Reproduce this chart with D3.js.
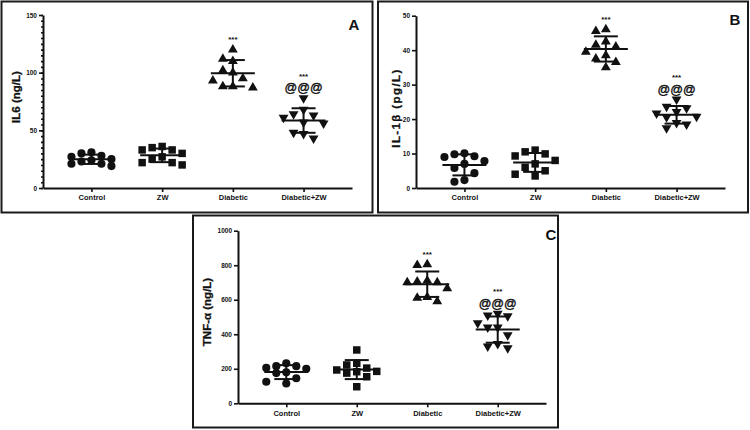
<!DOCTYPE html>
<html>
<head>
<meta charset="utf-8">
<script src="https://cdn.jsdelivr.net/npm/d3@7"></script>
<style>
body { margin: 0; background: #fff; }
svg text { font-family: "Liberation Sans", Arial, sans-serif; font-weight: bold; fill: #111; }
.axis path, .axis line { stroke: #111; }
.axis path { stroke-width: 2; }
.axis line { stroke-width: 1.6; }
</style>
</head>
<body>
<svg width="750" height="430"></svg>
<script>
// groups on the x axis
var categories = ["Control", "ZW", "Diabetic", "Diabetic+ZW"];

// IL6 (ng/L), panel A
var il6Control  = [28, 21, 31, 25, 27, 21, 24, 19, 30, 23];
var il6ZW       = [33, 20, 22, 35, 30, 25, 36, 22, 33, 27];
var il6Diabetic = [120, 110, 112, 93, 87, 95, 88, 100, 102, 88];
var il6DiabZW   = [78, 68, 63, 64, 56, 48, 43, 47, 57, 61];
var il6Ticks    = [0, 50, 100, 150];

// IL-1b (pg/L), panel B
var il1bControl  = [9.0, 7.8, 1.8, 4.3, 9.8, 7.0, 2.3, 10.1, 5.8, 9.2];
var il1bZW       = [9.3, 10.5, 8, 5, 3.5, 11, 7, 4, 6, 9.9];
var il1bDiabetic = [45.5, 46, 42.5, 38.5, 41.5, 39.5, 35, 37.5, 36.5, 41];
var il1bDiabZW   = [25.7, 23.2, 23.6, 22.1, 20.6, 17.4, 18.5, 21.7, 18.9, 20.7];
var il1bTicks    = [0, 10, 20, 30, 40, 50];

// TNF-a (ng/L), panel C
var tnfControl  = [200, 115, 215, 175, 145, 205, 180, 125, 215, 232];
var tnfZW       = [185, 222, 232, 309, 175, 96, 154, 193, 204, 183];
var tnfDiabetic = [805, 800, 705, 700, 710, 665, 615, 590, 610, 700];
var tnfDiabZW   = [505, 510, 520, 465, 440, 395, 345, 320, 330, 440];
var tnfTicks    = [0, 200, 400, 600, 800, 1000];

// significance marks per group
var starMarks = ["", "", "***", "***"];
var atMarks   = ["", "", "", "@@@"];

var svg = d3.select("svg");

var symbols = [
  d3.symbol().type(d3.symbolCircle).size(52),
  d3.symbol().type(d3.symbolSquare).size(56),
  d3.symbol().type(d3.symbolTriangle).size(42),
  d3.symbol().type(d3.symbolTriangle).size(42)
];

var panels = [
  { letter: "A", groups: [il6Control, il6ZW, il6Diabetic, il6DiabZW], ticks: il6Ticks,
    title: "IL6 (ng/L)", frame: [1.5, 1.5, 371, 211], l: 43, r: 352, t: 15, b: 188,
    titleX: 16, titleY: 97, spacing: 0, letterX: 354, letterY: 30, minor: 5 },
  { letter: "B", groups: [il1bControl, il1bZW, il1bDiabetic, il1bDiabZW], ticks: il1bTicks,
    title: "IL-1\u03b2  (pg/L)", frame: [378, 1.5, 370, 211], l: 416, r: 725, t: 15.7, b: 188,
    titleX: 396, titleY: 108, spacing: 1.4, letterX: 735, letterY: 25 },
  { letter: "C", groups: [tnfControl, tnfZW, tnfDiabetic, tnfDiabZW], ticks: tnfTicks,
    title: "TNF-\u03b1 (ng/L)", frame: [193, 215.5, 365, 212], l: 238, r: 546, t: 230.7, b: 403.3,
    titleX: 207, titleY: 312, spacing: 0, letterX: 551, letterY: 240 }
];

// spread points of a group sideways (at most two slots each way)
function swarm(vals, y, cx) {
  var step = 10, placed = [];
  var offs = [0, -1, 1, -2, 2];
  vals.slice().sort(d3.descending).forEach(function(v) {
    var py = y(v), best = null, bestGap = -1;
    for (var i = 0; i < offs.length; i++) {
      var px = cx + offs[i] * step;
      var gap = d3.min(placed, function(p) {
        return Math.abs(p.x - px) < step - 0.5 ? Math.abs(p.y - py) : Infinity;
      });
      if (gap === undefined) gap = Infinity;
      if (gap >= 11) { best = px; break; }
      if (gap > bestGap) { bestGap = gap; best = px; }
    }
    placed.push({ x: best, y: py, v: v });
  });
  return placed;
}

panels.forEach(function(p) {
  var g = svg.append("g");

  g.append("rect")
    .attr("x", p.frame[0]).attr("y", p.frame[1])
    .attr("width", p.frame[2]).attr("height", p.frame[3])
    .attr("fill", "none").attr("stroke", "#1a1a1a").attr("stroke-width", 2);

  var x = d3.scalePoint().domain(categories).range([p.l, p.r]).padding(0.685);
  var y = d3.scaleLinear().domain([0, d3.max(p.ticks)]).range([p.b, p.t]);

  if (p.minor) {
    g.append("g").attr("class", "axis")
      .attr("transform", "translate(" + p.l + ",0)")
      .call(d3.axisLeft(y).tickValues(d3.range(0, d3.max(p.ticks) + 1, p.minor)).tickSize(2).tickFormat(""))
      .call(function(s) { s.select(".domain").remove(); s.selectAll("line").attr("stroke-width", 1); });
  }

  var ya = g.append("g").attr("class", "axis")
    .attr("transform", "translate(" + p.l + ",0)")
    .call(d3.axisLeft(y).tickValues(p.ticks).tickFormat(d3.format("d")).tickSize(4).tickSizeOuter(0).tickPadding(2));
  ya.selectAll("text").style("font-size", "6.5px");

  var xa = g.append("g").attr("class", "axis")
    .attr("transform", "translate(0," + p.b + ")")
    .call(d3.axisBottom(x).tickSize(4).tickSizeOuter(0).tickPadding(3));
  xa.selectAll("text").style("font-size", "7.5px");

  g.append("text")
    .attr("transform", "translate(" + p.titleX + "," + p.titleY + ") rotate(-90)")
    .attr("text-anchor", "middle").attr("dy", "0.35em")
    .style("font-size", "11.5px").style("letter-spacing", p.spacing + "px")
    .attr("stroke", "#111").attr("stroke-width", 0.3)
    .text(p.title);

  g.append("text")
    .attr("x", p.letterX).attr("y", p.letterY)
    .attr("text-anchor", "middle")
    .style("font-size", "15px")
    .text(p.letter);

  p.groups.forEach(function(vals, gi) {
    var cx = x(categories[gi]);
    var pts = swarm(vals, y, cx);
    g.selectAll(null).data(pts).enter().append("path")
      .attr("d", symbols[gi])
      .attr("transform", function(d) {
        return "translate(" + d.x + "," + d.y + ")" + (gi === 3 ? " rotate(180)" : "");
      })
      .attr("fill", "#111");

    var m = d3.mean(vals), sd = d3.deviation(vals);
    var bars = g.append("g").attr("stroke", "#111").attr("stroke-width", 2);
    bars.append("line").attr("x1", cx - 22).attr("x2", cx + 22).attr("y1", y(m)).attr("y2", y(m));
    bars.append("line").attr("x1", cx - 12).attr("x2", cx + 12).attr("y1", y(m + sd)).attr("y2", y(m + sd));
    bars.append("line").attr("x1", cx - 12).attr("x2", cx + 12).attr("y1", y(m - sd)).attr("y2", y(m - sd));
    bars.append("line").attr("x1", cx).attr("x2", cx).attr("y1", y(m + sd)).attr("y2", y(m - sd));

    var top = y(d3.max(vals)) - 4;
    if (atMarks[gi]) {
      g.append("text").attr("x", cx).attr("y", top - 6)
        .attr("text-anchor", "middle").attr("dy", "0.35em")
        .style("font-size", "12.5px").style("font-weight", "normal")
        .attr("stroke", "#111").attr("stroke-width", 0.4)
        .text(atMarks[gi]);
      top -= 12;
    }
    if (starMarks[gi]) {
      g.append("text").attr("x", cx).attr("y", top - 3)
        .attr("text-anchor", "middle").attr("dy", "0.7em")
        .attr("transform", "translate(0,-6)")
        .style("font-size", "8px")
        .text(starMarks[gi]);
    }
  });
});
</script>
</body>
</html>
